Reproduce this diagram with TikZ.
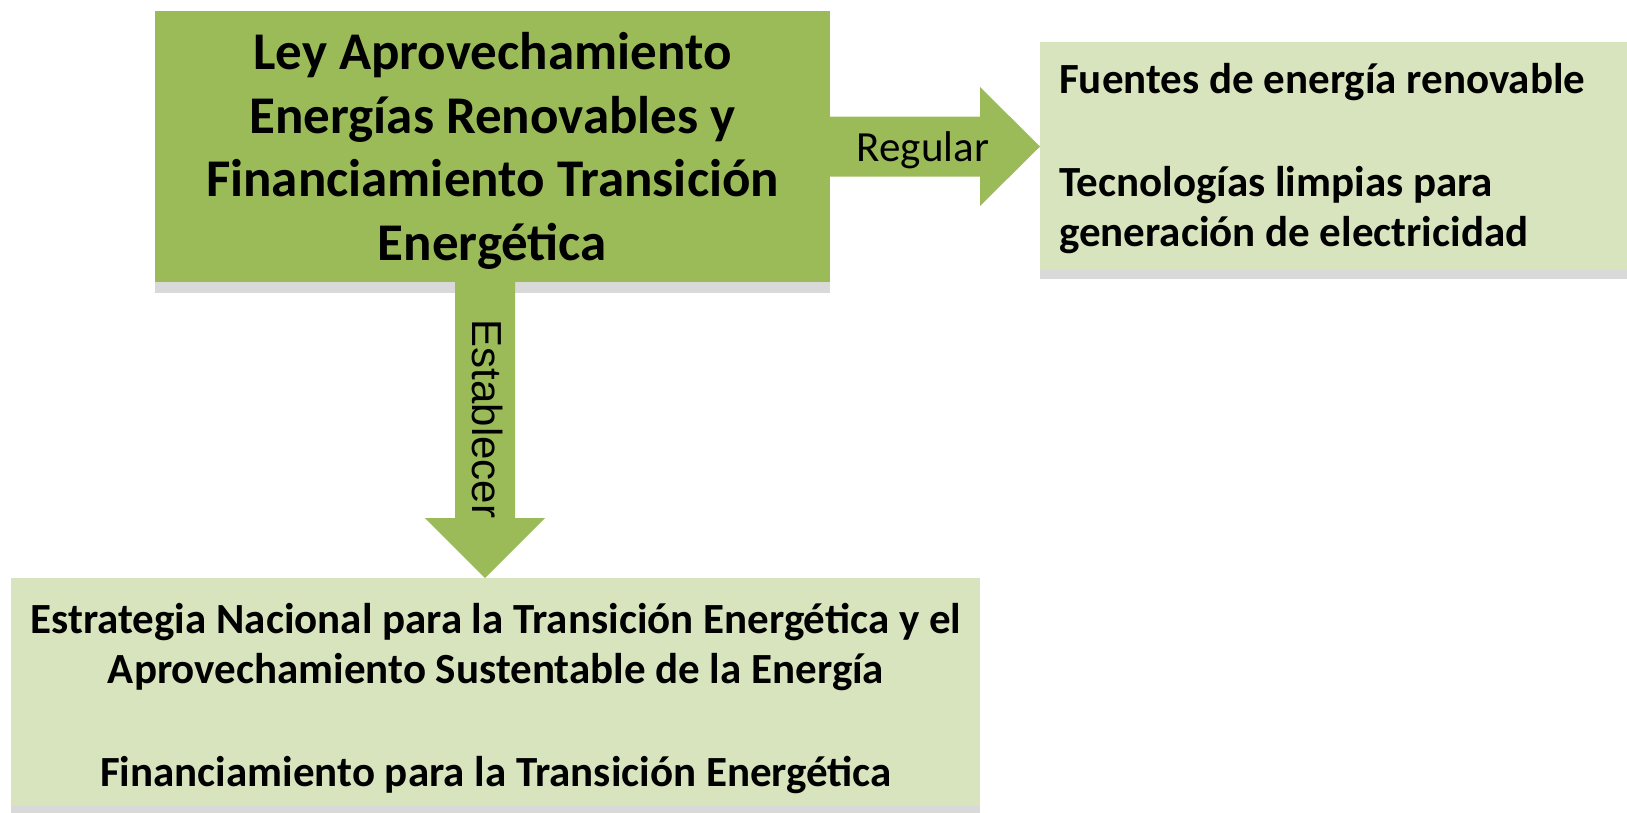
\documentclass[tikz,border=0pt]{standalone}
\usepackage{fontspec}
\setmainfont{Carlito}
\newfontfamily\arialf{Liberation Sans}
\usetikzlibrary{calc}
\definecolor{olivegreen}{HTML}{9BBB59}
\definecolor{palegreen}{HTML}{D7E4BD}
\definecolor{shadowgray}{HTML}{D9D9D9}
\begin{document}
\begin{tikzpicture}[x=1pt,y=1pt,
  boxshape/.style={rectangle, draw=none, inner sep=0pt, outer sep=0pt, anchor=north west},
  shadowfill/.style={fill=shadowgray},
  arrowfill/.style={fill=olivegreen},
  titletext/.style={inner sep=0pt, align=center, font=\bfseries\fontsize{53}{63.5}\selectfont},
  bodytext/.style={inner sep=0pt, font=\bfseries\fontsize{43}{50}\selectfont},
  verbtext/.style={inner sep=0pt, font=\fontsize{43}{50}\selectfont}]
\useasboundingbox (0,0) rectangle (1627,-812);

% boxes
\node[boxshape, fill=olivegreen, minimum width=675, minimum height=271] (main) at (155,-11) {};
\node[boxshape, fill=palegreen, minimum width=587, minimum height=228] (rb) at (1040,-42) {};
\node[boxshape, fill=palegreen, minimum width=969, minimum height=228] (bb) at (11,-578) {};

% shadows
\fill[shadowfill] (main.south west) rectangle ($(main.south east)+(0,-11)$);
\fill[shadowfill] (rb.south west) rectangle ($(rb.south east)+(0,-9)$);
\fill[shadowfill] (bb.south west) rectangle ($(bb.south east)+(0,-7)$);

% right arrow (Regular)
\coordinate (rtip) at (rb.west |- main.east);
\fill[arrowfill] ($(main.east)+(0,30)$) -- ($(rtip)+(-60,30)$) -- ($(rtip)+(-60,59.5)$)
  -- (rtip) -- ($(rtip)+(-60,-59.5)$) -- ($(rtip)+(-60,-30)$) -- ($(main.east)+(0,-30)$) -- cycle;

% down arrow (Establecer)
\coordinate (dstart) at ($(main.south)+(-7.5,0)$);
\coordinate (dtip) at (dstart |- bb.north);
\fill[arrowfill] ($(dstart)+(-30,0)$) -- ($(dtip)+(-30,60)$) -- ($(dtip)+(-60,60)$)
  -- (dtip) -- ($(dtip)+(60,60)$) -- ($(dtip)+(30,60)$) -- ($(dstart)+(30,0)$) -- cycle;

% texts
\node[titletext] (maintext) at (492.5,-151) {Ley Aprovechamiento\\Energías Renovables y\\Financiamiento Transición\\Energética};
\node[bodytext, align=left, anchor=north west] (rbtext) at (1059,-63)
  {Fuentes de energía renovable\\[53pt]Tecnologías limpias para\\generación de electricidad};
\node[bodytext, align=center] (bbtext) at (496,-699)
  {Estrategia Nacional para la Transición Energética y el\\Aprovechamiento Sustentable de la Energía\\[53pt]Financiamiento para la Transición Energética};
\node[verbtext] (reg) at (923,-150) {Regular};
\node[verbtext, font=\arialf\fontsize{42}{50}\selectfont, rotate=-90] (est) at (488,-419) {Establecer};
\end{tikzpicture}
\end{document}
